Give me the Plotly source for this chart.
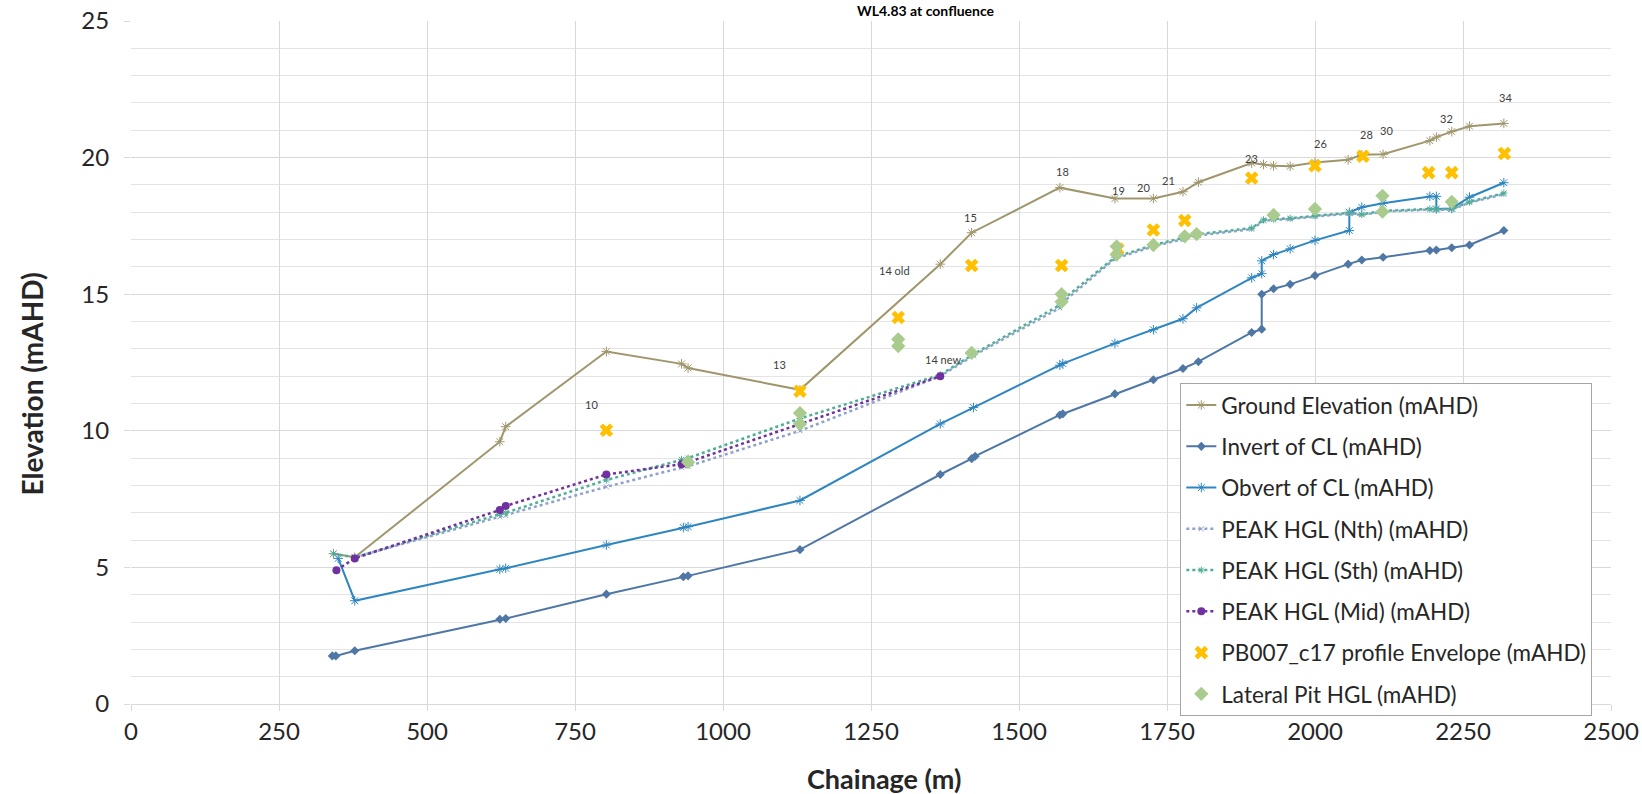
import plotly.graph_objects as go

# ---------------- data ----------------
ground_x = [342, 378, 623, 633, 803, 930, 941, 1130, 1367, 1420, 1569, 1662, 1727, 1777, 1803,
            1893, 1913, 1930, 1958, 2000, 2056, 2079, 2115, 2194, 2205, 2231, 2261, 2319]
ground_y = [5.5, 5.37, 9.6, 10.15, 12.9, 12.45, 12.3, 11.5, 16.1, 17.25, 18.9, 18.5, 18.5, 18.75, 19.1,
            19.8, 19.75, 19.7, 19.68, 19.82, 19.92, 20.1, 20.12, 20.62, 20.75, 20.95, 21.15, 21.25]

invert_x = [340, 346, 378, 623, 633, 803, 933, 941, 1130, 1367, 1420, 1426, 1569, 1574, 1662, 1727,
            1777, 1803, 1893, 1910, 1910, 1930, 1958, 2000, 2056, 2079, 2115, 2194, 2205, 2231, 2261, 2319]
invert_y = [1.76, 1.76, 1.95, 3.1, 3.13, 4.02, 4.66, 4.69, 5.65, 8.4, 8.98, 9.07, 10.58, 10.62, 11.35, 11.87,
            12.28, 12.53, 13.6, 13.72, 15.0, 15.2, 15.36, 15.68, 16.1, 16.25, 16.35, 16.6, 16.62, 16.7, 16.8, 17.33]

obvert_x = [350, 378, 623, 633, 803, 933, 941, 1130, 1367, 1423, 1569, 1574, 1662, 1727, 1777, 1800,
            1893, 1910, 1910, 1930, 1958, 2000, 2058, 2058, 2079, 2115, 2194, 2205, 2205, 2231, 2261, 2319]
obvert_y = [5.33, 3.78, 4.93, 4.97, 5.82, 6.46, 6.49, 7.45, 10.25, 10.85, 12.4, 12.46, 13.2, 13.7, 14.1, 14.5,
            15.6, 15.75, 16.22, 16.45, 16.66, 16.97, 17.33, 18.0, 18.18, 18.33, 18.58, 18.58, 18.12, 18.14, 18.55, 19.08]

nth_x = [378, 623, 633, 803, 930, 941, 1130, 1367, 1423, 1569, 1574, 1662, 1727, 1777, 1803, 1893,
         1913, 1930, 1958, 2000, 2058, 2079, 2115, 2194, 2205, 2231, 2261, 2319]
nth_y = [5.37, 6.85, 6.9, 7.95, 8.65, 8.7, 10.0, 12.0, 12.75, 14.5, 14.7, 16.3, 16.75, 17.0, 17.15, 17.38,
         17.68, 17.72, 17.75, 17.84, 17.95, 17.9, 18.02, 18.1, 18.08, 18.1, 18.35, 18.66]

sth_x = [342, 378, 623, 633, 803, 930, 941, 1130, 1367, 1423, 1569, 1574, 1662, 1727, 1777, 1803, 1893,
         1913, 1930, 1958, 2000, 2058, 2079, 2115, 2194, 2205, 2231, 2261, 2319]
sth_y = [5.5, 5.37, 6.95, 7.0, 8.2, 8.95, 9.0, 10.45, 12.05, 12.8, 14.6, 14.8, 16.35, 16.8, 17.05, 17.2, 17.42,
         17.72, 17.75, 17.78, 17.87, 17.98, 17.92, 18.05, 18.12, 18.1, 18.13, 18.38, 18.7]

mid_x = [347, 378, 623, 633, 803, 930, 941, 1367]
mid_y = [4.9, 5.33, 7.1, 7.25, 8.4, 8.78, 8.85, 12.0]

env_x = [803, 1130, 1296, 1420, 1572, 1667, 1727, 1780, 1893, 2000, 2081, 2192, 2231, 2320]
env_y = [10.02, 11.45, 14.15, 16.05, 16.05, 16.65, 17.35, 17.7, 19.25, 19.7, 20.05, 19.45, 19.45, 20.15]

lat_x = [941, 1130, 1130, 1296, 1296, 1420, 1572, 1572, 1665, 1665, 1727, 1780, 1800, 1930, 2000, 2114, 2114, 2231]
lat_y = [8.85, 10.65, 10.25, 13.35, 13.1, 12.85, 15.0, 14.72, 16.75, 16.45, 16.8, 17.12, 17.2, 17.9, 18.12,
         18.6, 18.02, 18.38]

pit_labels = ["10", "13", "14 old", "14 new", "15", "18", "19", "20", "21", "23", "26", "28", "30", "32", "34"]
pit_label_x = [778, 1096, 1290, 1371, 1418, 1574, 1668, 1710, 1752, 1893, 2009, 2087, 2121, 2222, 2322]
pit_label_y = [10.98, 12.43, 15.86, 12.6, 17.8, 19.5, 18.81, 18.9, 19.15, 19.97, 20.52, 20.83, 20.98, 21.44, 22.2]

x_ticks = [0, 250, 500, 750, 1000, 1250, 1500, 1750, 2000, 2250, 2500]
y_ticks = [0, 5, 10, 15, 20, 25]

FONT = "Lato, 'Open Sans', sans-serif"

# ---------------- figure ----------------
fig = go.Figure()

fig.add_trace(go.Scatter(
    x=ground_x, y=ground_y, mode="lines+markers", name="Ground Elevation (mAHD)",
    legendgroup="g1", line=dict(color="#A0966C", width=2),
    marker=dict(symbol="asterisk-open", size=8, color="#A0966C", line=dict(width=1, color="#A0966C"))))

fig.add_trace(go.Scatter(
    x=invert_x, y=invert_y, mode="lines+markers", name="Invert of CL (mAHD)",
    legendgroup="g2", line=dict(color="#4F77A6", width=2),
    marker=dict(symbol="diamond", size=7, color="#4F77A6")))

fig.add_trace(go.Scatter(
    x=obvert_x, y=obvert_y, mode="lines+markers", name="Obvert of CL (mAHD)",
    legendgroup="g3", line=dict(color="#2E86C1", width=2),
    marker=dict(symbol="asterisk-open", size=8, color="#2E86C1", line=dict(width=1, color="#2E86C1"))))

fig.add_trace(go.Scatter(
    x=nth_x, y=nth_y, mode="lines+markers", name="PEAK HGL (Nth) (mAHD)",
    legendgroup="g4", line=dict(color="#8FA2CC", width=2.5, dash="dot"),
    marker=dict(symbol="x-thin-open", size=5, color="#8FA2CC", line=dict(width=1, color="#8FA2CC"))))

fig.add_trace(go.Scatter(
    x=sth_x, y=sth_y, mode="lines+markers", name="PEAK HGL (Sth) (mAHD)",
    legendgroup="g5", line=dict(color="#4FAF95", width=2.5, dash="dot"),
    marker=dict(symbol="asterisk-open", size=6, color="#4FAF95", line=dict(width=1, color="#4FAF95"))))

fig.add_trace(go.Scatter(
    x=mid_x, y=mid_y, mode="lines+markers", name="PEAK HGL (Mid) (mAHD)",
    legendgroup="g6", line=dict(color="#7030A0", width=2.5, dash="dot"),
    marker=dict(symbol="circle", size=8, color="#7030A0")))

fig.add_trace(go.Scatter(
    x=env_x, y=env_y, mode="markers", name="PB007_c17 profile Envelope (mAHD)",
    legendgroup="g7",
    marker=dict(symbol="x", size=12, color="#FFC000")))

fig.add_trace(go.Scatter(
    x=lat_x, y=lat_y, mode="markers", name="Lateral Pit HGL (mAHD)",
    legendgroup="g8",
    marker=dict(symbol="diamond", size=11, color="#A9CC8E")))

for t, lx, ly in zip(pit_labels, pit_label_x, pit_label_y):
    fig.add_annotation(x=lx, y=ly, text=t, showarrow=False, xref="x", yref="y",
                       font=dict(family=FONT, size=11, color="#404040"))

# chart title (top line cropped in source) and axis titles
fig.add_annotation(x=0.537, y=1.0, xref="paper", yref="paper", yshift=11,
                   text="<b>WL4.83 at confluence</b>", showarrow=False, yanchor="middle",
                   font=dict(family=FONT, size=14, color="#000000"))
fig.add_annotation(x=0.5, y=0, xref="paper", yref="paper", yshift=-74, xshift=13,
                   text="<b>Chainage (m)</b>", showarrow=False, yanchor="middle", xanchor="center",
                   font=dict(family=FONT, size=27, color="#262626"))
fig.add_annotation(x=0, y=0.5, xref="paper", yref="paper", xshift=-100, yshift=-22,
                   text="<b>Elevation (mAHD)</b>", showarrow=False, textangle=-90,
                   xanchor="center", yanchor="middle",
                   font=dict(family=FONT, size=28, color="#262626"))

fig.update_layout(
    width=1642, height=794,
    margin=dict(l=131, r=31, t=21, b=90, autoexpand=False),
    paper_bgcolor="white", plot_bgcolor="white",
    font=dict(family=FONT, size=20, color="#262626"),
    showlegend=True,
    legend=dict(x=0.709, y=0.470, xanchor="left", yanchor="top",
                bgcolor="white", bordercolor="#A6A6A6", borderwidth=1,
                font=dict(family=FONT, size=22.5, color="#262626"),
                tracegroupgap=9, itemwidth=30),
)

fig.update_xaxes(
    range=[0, 2500], tickvals=x_ticks, ticktext=[str(v) for v in x_ticks],
    automargin=False,
    showgrid=True, gridcolor="#D9D9D9", gridwidth=1,
    showline=True, linecolor="#D9D9D9", linewidth=1,
    ticks="outside", ticklen=6, tickcolor="#D9D9D9",
    zeroline=False,
    tickfont=dict(family=FONT, size=24, color="#262626"),
)

fig.update_yaxes(
    range=[0, 25], tickvals=y_ticks, ticktext=[str(v) for v in y_ticks],
    automargin=False,
    showgrid=True, gridcolor="#D9D9D9", gridwidth=1,
    minor=dict(dtick=1, showgrid=True, gridcolor="#E4E4E4", gridwidth=1),
    showline=False,
    ticks="outside", ticklen=6, tickcolor="#D9D9D9",
    ticklabelstandoff=10,
    zeroline=False,
    tickfont=dict(family=FONT, size=24, color="#262626"),
)

fig.write_html("out.html",
               config={"displayModeBar": False},
               post_script="document.body.style.margin='0';document.body.style.overflow='hidden';")
